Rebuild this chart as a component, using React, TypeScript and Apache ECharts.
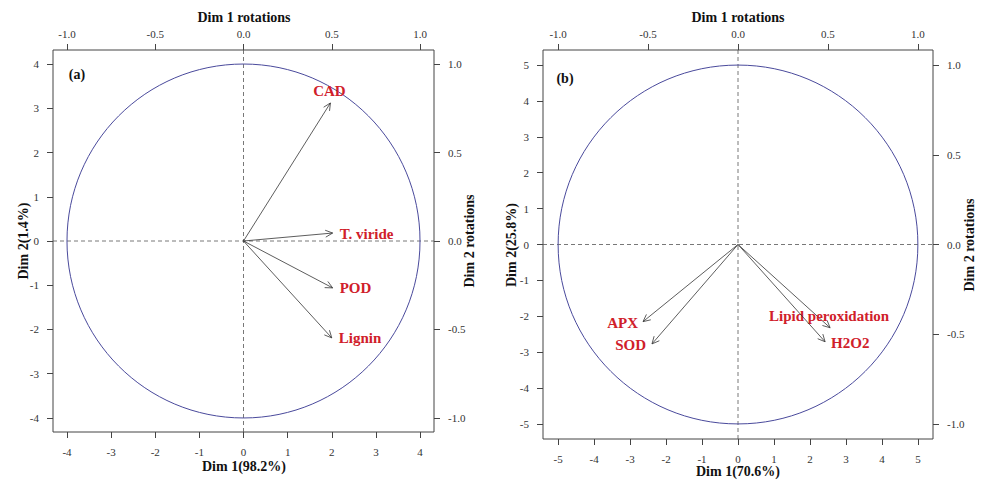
import React, { useEffect, useRef } from "react";
import * as echarts from "echarts";

// ---- data ----
const namesA = ["CAD", "T. viride", "POD", "Lignin"];
const dim1A = [1.97, 2.02, 2.02, 2.0];
const dim2A = [3.12, 0.18, -1.06, -2.19];

const namesB = ["APX", "SOD", "Lipid peroxidation", "H2O2"];
const dim1B = [-2.64, -2.39, 2.56, 2.42];
const dim2B = [-2.15, -2.77, -2.32, -2.71];

const radiusA = 4;
const radiusB = 5;
const ticksA = [-4, -3, -2, -1, 0, 1, 2, 3, 4];
const ticksB = [-5, -4, -3, -2, -1, 0, 1, 2, 3, 4, 5];
const rotTicks = [-1, -0.5, 0, 0.5, 1];

// ---- label placement (style) ----
type Place = { dx: number; dy: number; align: string };
const placeA: Place[] = [
  { dx: -1, dy: -12, align: "center" },
  { dx: 7, dy: 1, align: "left" },
  { dx: 7, dy: 0, align: "left" },
  { dx: 7, dy: 0, align: "left" },
];
const placeB: Place[] = [
  { dx: -5, dy: 1, align: "right" },
  { dx: -6, dy: 1, align: "right" },
  { dx: -1, dy: -12, align: "center" },
  { dx: 6, dy: 1, align: "left" },
];

const FONT = '"Liberation Serif", "Times New Roman", serif';
const TICK_COLOR = "#333";

function arrowRenderer(names: string[], places: Place[]) {
  return (params: any, api: any) => {
    const x = api.value(0);
    const y = api.value(1);
    const o = api.coord([0, 0]);
    const t = api.coord([x, y]);
    const ang = Math.atan2(t[1] - o[1], t[0] - o[0]);
    const L = 8;
    const a = Math.PI / 7;
    const p1 = [t[0] - L * Math.cos(ang - a), t[1] - L * Math.sin(ang - a)];
    const p2 = [t[0] - L * Math.cos(ang + a), t[1] - L * Math.sin(ang + a)];
    const pl = places[params.dataIndex];
    return {
      type: "group",
      children: [
        {
          type: "line",
          shape: { x1: o[0], y1: o[1], x2: t[0], y2: t[1] },
          style: { stroke: "#333", lineWidth: 0.8 },
        },
        {
          type: "polyline",
          shape: { points: [p1, t, p2] },
          style: { stroke: "#333", fill: null, lineWidth: 0.8 },
        },
        {
          type: "text",
          x: t[0] + pl.dx,
          y: t[1] + pl.dy,
          style: {
            text: names[params.dataIndex],
            fill: "#d0202a",
            font: `bold 15px ${FONT}`,
            align: pl.align,
            textAlign: pl.align,
            verticalAlign: "middle",
            textVerticalAlign: "middle",
          },
        },
      ],
    };
  };
}

function circleRenderer(radius: number) {
  return (params: any, api: any) => {
    const cs = params.coordSys;
    const c = api.coord([0, 0]);
    const s = api.size([radius, radius]);
    const dash = { stroke: "#555", lineWidth: 0.8, lineDash: [4, 3] };
    return {
      type: "group",
      children: [
        {
          type: "line",
          shape: { x1: cs.x, y1: c[1], x2: cs.x + cs.width, y2: c[1] },
          style: dash,
        },
        {
          type: "line",
          shape: { x1: c[0], y1: cs.y, x2: c[0], y2: cs.y + cs.height },
          style: dash,
        },
        {
          type: "ellipse",
          shape: { cx: c[0], cy: c[1], rx: s[0], ry: s[1] },
          style: { stroke: "#4a4a9c", fill: null, lineWidth: 1 },
        },
      ],
    };
  };
}

function valueAxis(
  gridIndex: number,
  position: string,
  ext: number,
  ticks: number[],
  fmt: (v: number) => string,
  margin: number
) {
  return {
    type: "value",
    gridIndex,
    position,
    min: -ext,
    max: ext,
    axisLine: { show: false, onZero: false },
    splitLine: { show: false },
    axisTick: {
      show: true,
      inside: false,
      length: 6,
      customValues: ticks,
      lineStyle: { color: "#444", width: 1 },
    },
    axisLabel: {
      show: true,
      customValues: ticks,
      formatter: (v: number) => fmt(v),
      color: TICK_COLOR,
      fontSize: 11,
      fontFamily: FONT,
      margin,
    },
  };
}

const intFmt = (v: number) => String(Math.round(v));
const rotFmt = (v: number) => v.toFixed(1);

export default function App() {
  const ref = useRef<HTMLDivElement>(null);
  useEffect(() => {
    if (!ref.current) return;
    const chart = echarts.init(ref.current, undefined, { renderer: "svg" });
    const extA = 4.317;
    const extB = 5.42;
    const titleStyle = (text: string) => ({
      text,
      fill: "#111",
      font: `bold 14px ${FONT}`,
      align: "center",
      textAlign: "center",
      verticalAlign: "middle",
      textVerticalAlign: "middle",
    });
    chart.setOption({
      animation: false,
      textStyle: { fontFamily: FONT },
      grid: [
        { left: 53, top: 50, width: 381, height: 382, show: true, borderColor: "#444", borderWidth: 1, backgroundColor: "transparent" },
        { left: 543, top: 50, width: 390, height: 389, show: true, borderColor: "#444", borderWidth: 1, backgroundColor: "transparent" },
      ],
      xAxis: [
        valueAxis(0, "bottom", extA, ticksA, intFmt, 14),
        valueAxis(0, "top", extA / radiusA, rotTicks, rotFmt, 11),
        valueAxis(1, "bottom", extB, ticksB, intFmt, 14),
        valueAxis(1, "top", extB / radiusB, rotTicks, rotFmt, 11),
      ],
      yAxis: [
        valueAxis(0, "left", extA, ticksA, intFmt, 14),
        valueAxis(0, "right", extA / radiusA, rotTicks, rotFmt, 14),
        valueAxis(1, "left", extB, ticksB, intFmt, 14),
        valueAxis(1, "right", extB / radiusB, rotTicks, rotFmt, 14),
      ],
      series: [
        {
          type: "custom",
          xAxisIndex: 0,
          yAxisIndex: 0,
          data: [[0, 0]],
          renderItem: circleRenderer(radiusA),
          silent: true,
        },
        {
          type: "custom",
          xAxisIndex: 0,
          yAxisIndex: 0,
          data: namesA.map((_, i) => [dim1A[i], dim2A[i]]),
          renderItem: arrowRenderer(namesA, placeA),
          silent: true,
        },
        {
          type: "custom",
          xAxisIndex: 2,
          yAxisIndex: 2,
          data: [[0, 0]],
          renderItem: circleRenderer(radiusB),
          silent: true,
        },
        {
          type: "custom",
          xAxisIndex: 2,
          yAxisIndex: 2,
          data: namesB.map((_, i) => [dim1B[i], dim2B[i]]),
          renderItem: arrowRenderer(namesB, placeB),
          silent: true,
        },
      ],
      graphic: [
        { type: "text", x: 244, y: 17, style: titleStyle("Dim 1 rotations") },
        { type: "text", x: 244, y: 466, style: titleStyle("Dim 1(98.2%)") },
        { type: "text", x: 23, y: 241, rotation: Math.PI / 2, style: titleStyle("Dim 2(1.4%)") },
        { type: "text", x: 469, y: 241, rotation: Math.PI / 2, style: titleStyle("Dim 2 rotations") },
        { type: "text", x: 77, y: 74, style: titleStyle("(a)") },
        { type: "text", x: 738, y: 17, style: titleStyle("Dim 1 rotations") },
        { type: "text", x: 738, y: 471, style: titleStyle("Dim 1(70.6%)") },
        { type: "text", x: 511, y: 245, rotation: Math.PI / 2, style: titleStyle("Dim 2(25.8%)") },
        { type: "text", x: 969, y: 245, rotation: Math.PI / 2, style: titleStyle("Dim 2 rotations") },
        { type: "text", x: 565, y: 78, style: titleStyle("(b)") },
      ],
    });
    return () => chart.dispose();
  }, []);
  return (
    <div
      ref={ref}
      style={{ position: "absolute", left: 0, top: 0, width: 981, height: 480, background: "#fff" }}
    />
  );
}
